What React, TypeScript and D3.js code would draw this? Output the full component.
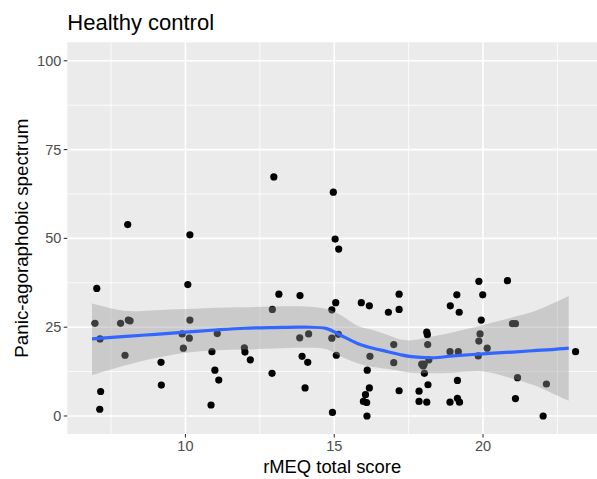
import React from 'react';
import * as d3 from 'd3';

// observed points (rMEQ total score, panic-agoraphobic spectrum)
const scoreX = [
  7.02, 10.08, 6.96, 7.82, 8.08, 8.14, 10.15, 7.13, 9.89, 10.13, 11.07, 7.97, 9.93, 10.89, 9.18, 10.99, 11.12, 9.19, 7.15, 7.12, 10.86,
  8.06, 10.15,
  12.97, 14.97, 15.03, 15.15,
  13.14, 13.85, 12.92, 15.05, 14.92, 15.91, 16.18, 17.18, 16.82, 17.18, 11.98, 12.0, 12.18, 13.84, 14.14, 14.92, 15.14, 13.92, 14.11,
  15.07, 17.0, 16.2, 17.0, 12.91, 16.11, 14.02, 16.18, 17.18, 16.05, 15.98, 16.09, 14.94, 16.1,
  19.86, 20.82, 19.12, 19.99, 18.9, 19.2, 19.94,
  20.99, 21.09, 18.11, 18.13, 19.9, 18.14, 19.86, 20.14, 18.89, 19.17, 19.84, 18.18, 17.94, 18.02, 17.99, 18.03, 23.11, 21.16, 22.13,
  19.14, 18.15, 17.85, 17.85, 18.11, 18.89, 19.14, 19.21, 21.09, 22.02,
];
const spectrumY = [
  35.9, 37.0, 26.1, 26.1, 27.0, 26.8, 27.0, 21.7, 23.1, 21.9, 23.2, 17.1, 19.1, 18.1, 15.1, 12.9, 10.1, 8.7, 6.9, 1.9, 3.1,
  53.9, 51.0,
  67.3, 63.0, 49.8, 47.0,
  34.3, 33.9, 30.0, 31.9, 29.9, 31.9, 31.0, 34.3, 29.2, 30.0, 19.2, 18.0, 15.8, 22.0, 23.1, 21.9, 23.0, 16.8, 15.1,
  17.1, 20.1, 16.8, 15.0, 12.0, 12.9, 7.9, 7.9, 7.1, 6.0, 4.1, 3.8, 1.0, 0.0,
  37.9, 38.1, 34.1, 34.1, 31.0, 29.2, 27.0,
  26.0, 26.0, 23.6, 22.9, 23.1, 20.1, 21.1, 19.1, 18.1, 18.1, 16.9, 15.8, 14.6, 14.6, 14.1, 12.0, 18.1, 10.8, 9.0,
  10.0, 8.8, 7.0, 4.1, 3.9, 3.9, 5.0, 3.9, 4.9, 0.0,
];

// loess fit with its confidence band
const smoothX = [6.86, 8, 9, 10, 11, 12, 13, 14, 14.75, 15.2, 15.76, 16.2, 16.8, 17.2, 17.6, 18.3, 19, 20, 21, 21.7, 22.3, 22.88];
const smoothFit = [21.7, 22.4, 23.0, 23.6, 24.2, 24.7, 24.9, 25.0, 24.6, 22.8, 20.5, 19.3, 18.1, 17.3, 16.7, 16.4, 16.9, 17.5, 18.0, 18.4, 18.7, 19.1];
const smoothUpper = [31.7, 29.6, 29.8, 30.1, 30.5, 30.6, 30.8, 30.8, 30.1, 28.5, 25.5, 24.4, 22.8, 21.6, 21.3, 22.4, 23.6, 25.6, 27.8, 29.4, 31.5, 33.8];
const smoothLower = [11.5, 14.3, 16.3, 17.8, 18.5, 18.7, 19.0, 19.2, 18.8, 16.8, 14.9, 13.9, 13.2, 12.7, 12.2, 12.0, 12.2, 12.5, 10.5, 8.7, 6.5, 4.3];

const xTicks = [10, 15, 20];
const xMinor = [7.5, 12.5, 17.5, 22.5];
const yTicks = [0, 25, 50, 75, 100];
const yMinor = [12.5, 37.5, 62.5, 87.5];

const W = 597;
const H = 479;
const panel = { left: 67.3, right: 597, top: 42.3, bottom: 434 };
const FONT = '"Liberation Sans", Arial, sans-serif';

export default function App() {
  const x = d3.scaleLinear().domain([6.03, 23.83]).range([panel.left, panel.right]);
  const y = d3.scaleLinear().domain([-5.07, 105.2]).range([panel.bottom, panel.top]);

  const idx = d3.range(smoothX.length);
  const band = d3.area<number>()
    .x((i) => x(smoothX[i]))
    .y0((i) => y(smoothLower[i]))
    .y1((i) => y(smoothUpper[i]))
    .curve(d3.curveCatmullRom);
  const line = d3.line<number>()
    .x((i) => x(smoothX[i]))
    .y((i) => y(smoothFit[i]))
    .curve(d3.curveCatmullRom);

  const pw = panel.right - panel.left;
  const ph = panel.bottom - panel.top;

  return (
    <svg width={W} height={H} style={{ position: 'absolute', left: 0, top: 0, background: '#fff' }} fontFamily={FONT}>
      <rect x={panel.left} y={panel.top} width={pw} height={ph} fill="#EBEBEB" />
      {yMinor.map((v) => (
        <line key={`ym${v}`} x1={panel.left} x2={panel.right} y1={y(v)} y2={y(v)} stroke="#fff" strokeWidth={0.8} />
      ))}
      {xMinor.map((v) => (
        <line key={`xm${v}`} x1={x(v)} x2={x(v)} y1={panel.top} y2={panel.bottom} stroke="#fff" strokeWidth={0.8} />
      ))}
      {yTicks.map((v) => (
        <line key={`y${v}`} x1={panel.left} x2={panel.right} y1={y(v)} y2={y(v)} stroke="#fff" strokeWidth={1.6} />
      ))}
      {xTicks.map((v) => (
        <line key={`x${v}`} x1={x(v)} x2={x(v)} y1={panel.top} y2={panel.bottom} stroke="#fff" strokeWidth={1.6} />
      ))}

      {scoreX.map((v, i) => (
        <circle key={`p${i}`} cx={x(v)} cy={y(spectrumY[i])} r={3.6} fill="#000" />
      ))}

      <path d={band(idx) || ''} fill="#999999" fillOpacity={0.4} />
      <path d={line(idx) || ''} fill="none" stroke="#3366FF" strokeWidth={3.2} />

      {yTicks.map((v) => (
        <g key={`yt${v}`}>
          <line x1={panel.left - 3.6} x2={panel.left} y1={y(v)} y2={y(v)} stroke="#333" strokeWidth={1.1} />
          <text x={panel.left - 6} y={y(v)} dy="0.35em" textAnchor="end" fontSize={14.5} fill="#4D4D4D">{v}</text>
        </g>
      ))}
      {xTicks.map((v) => (
        <g key={`xt${v}`}>
          <line x1={x(v)} x2={x(v)} y1={panel.bottom} y2={panel.bottom + 3.6} stroke="#333" strokeWidth={1.1} />
          <text x={x(v)} y={panel.bottom + 17} textAnchor="middle" fontSize={14.5} fill="#4D4D4D">{v}</text>
        </g>
      ))}

      <text x={(panel.left + panel.right) / 2} y={473} textAnchor="middle" fontSize={18.4} fill="#000">rMEQ total score</text>
      <text
        transform={`translate(28,${(panel.top + panel.bottom) / 2}) rotate(-90)`}
        textAnchor="middle"
        fontSize={18.8}
        fill="#000"
      >
        Panic-agoraphobic spectrum
      </text>
      <text x={panel.left} y={29.5} fontSize={22} fill="#000">Healthy control</text>
    </svg>
  );
}
